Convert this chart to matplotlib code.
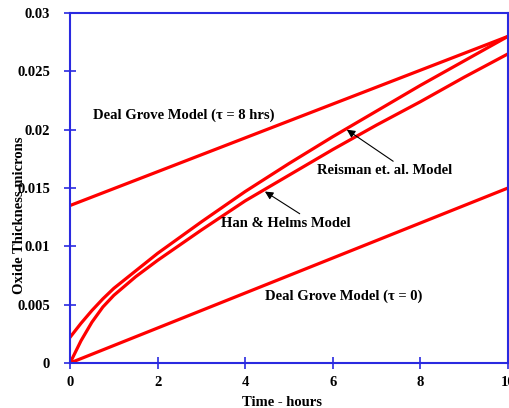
import numpy as np
import matplotlib
matplotlib.use('Agg')
import matplotlib.pyplot as plt
from matplotlib.ticker import MultipleLocator, FuncFormatter

# ---   DATA   --- #
# Time (hours)
TIME = [0, 0.25, 0.5, 0.75, 1, 1.5, 2, 3, 4, 5, 6, 7, 8, 9, 10]
# Oxide thickness (microns)
REISMAN = [0.0022, 0.0034, 0.0045, 0.0055, 0.0064, 0.0079, 0.0094, 0.0121,
           0.0147, 0.0171, 0.0194, 0.0216, 0.0238, 0.0259, 0.0280]
HAN_HELMS = [0.0, 0.0019, 0.0035, 0.0048, 0.0058, 0.0074, 0.0088, 0.0114,
             0.0139, 0.0161, 0.0183, 0.0204, 0.0224, 0.0245, 0.0265]
DG_TIME = [0, 10]
DG_TAU0 = [0.0, 0.015]
DG_TAU8 = [0.0135, 0.028]

RED = '#ff0000'
BLUE = '#2a2ae0'
FS = 10.5

plt.rcParams['font.family'] = ['Liberation Serif', 'DejaVu Serif']
plt.rcParams['font.weight'] = 'bold'

fig = plt.figure(figsize=(5.1, 4.08), dpi=100)
ax = fig.add_axes([0.1373, 0.1103, 0.8587, 0.8577])

lw = 2.3
ax.plot(DG_TIME, DG_TAU8, color=RED, lw=lw, solid_capstyle='butt')
ax.plot(DG_TIME, DG_TAU0, color=RED, lw=lw, solid_capstyle='butt')
ax.plot(TIME, REISMAN, color=RED, lw=lw)
ax.plot(TIME, HAN_HELMS, color=RED, lw=lw)

ax.set_xlim(0, 10)
ax.set_ylim(0, 0.03)
ax.xaxis.set_major_locator(MultipleLocator(2))
ax.yaxis.set_major_locator(MultipleLocator(0.005))
ax.xaxis.set_major_formatter(FuncFormatter(lambda v, p: f'{v:g}'))
ax.yaxis.set_major_formatter(FuncFormatter(lambda v, p: f'{round(v, 3):g}'))

for s in ax.spines.values():
    s.set_color(BLUE)
    s.set_linewidth(1.5)
ax.tick_params(axis='both', direction='inout', length=9, width=1.2,
               color=BLUE, labelsize=FS)
ax.tick_params(axis='x', pad=5)
ax.tick_params(axis='y', pad=10)
for lab in ax.get_xticklabels() + ax.get_yticklabels():
    lab.set_fontweight('bold')

ax.set_xlabel('Time - hours', fontsize=FS, fontweight='bold')
ax.set_ylabel('Oxide Thickness microns', fontsize=FS, fontweight='bold')
ax.xaxis.set_label_coords(0.485, -0.093)
ax.yaxis.set_label_coords(-0.10, 0.423)

# Labels
ax.text(0.52, 0.0212, 'Deal Grove Model (\u03c4 = 8 hrs)', fontsize=FS,
        fontweight='bold', va='center')
ax.text(4.45, 0.00575, 'Deal Grove Model (\u03c4 = 0)', fontsize=FS,
        fontweight='bold', va='center')
ax.annotate('Reisman et. al. Model', xy=(6.32, 0.0200), xytext=(5.65, 0.0165),
            fontsize=FS, fontweight='bold', va='center',
            arrowprops=dict(arrowstyle='-|>', color='black', lw=0.8,
                            shrinkA=0, shrinkB=0, mutation_scale=12,
                            relpos=(0.59, 1.0)))
ax.annotate('Han & Helms Model', xy=(4.45, 0.0147), xytext=(3.45, 0.0120),
            fontsize=FS, fontweight='bold', va='center',
            arrowprops=dict(arrowstyle='-|>', color='black', lw=0.8,
                            shrinkA=0, shrinkB=0, mutation_scale=12,
                            relpos=(0.64, 1.0)))

fig.savefig('out.png', dpi=100)
